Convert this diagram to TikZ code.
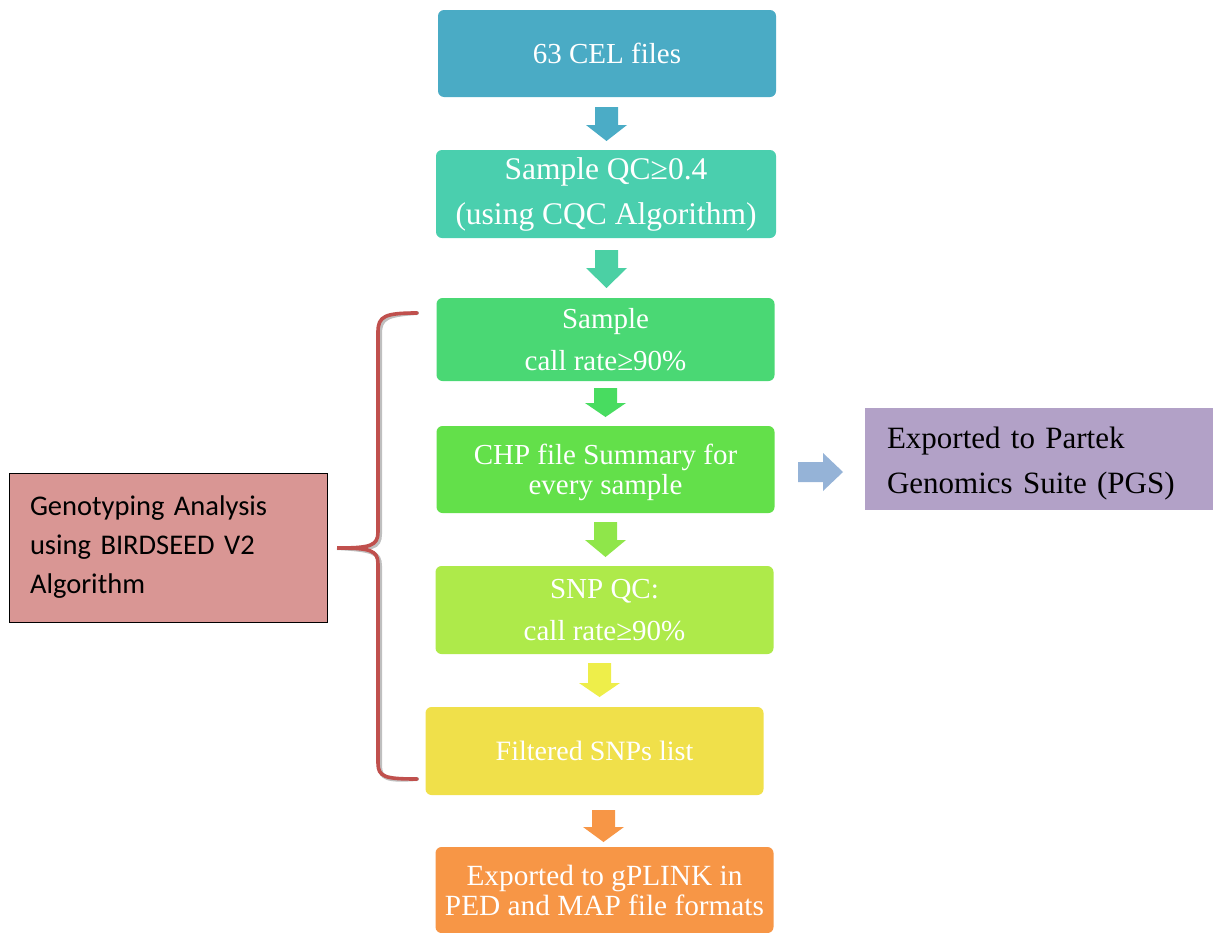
\documentclass[tikz,border=0pt]{standalone}
\usepackage{fontspec}
\setmainfont{Liberation Serif}
\newfontfamily\carlitofont{Carlito}
\definecolor{cA}{HTML}{4AABC5}
\definecolor{cB}{HTML}{4ACFAE}
\definecolor{cC}{HTML}{4AD874}
\definecolor{cD}{HTML}{63E04A}
\definecolor{cE}{HTML}{AEEA4A}
\definecolor{cF}{HTML}{F0E04A}
\definecolor{cG}{HTML}{F79646}
\definecolor{aA}{HTML}{4BACC6}
\definecolor{aB}{HTML}{4BD0A4}
\definecolor{aC}{HTML}{48DC60}
\definecolor{aD}{HTML}{8FE64A}
\definecolor{aE}{HTML}{EEEE4A}
\definecolor{aF}{HTML}{F79646}
\definecolor{purp}{HTML}{B2A1C7}
\definecolor{rarr}{HTML}{95B3D7}
\definecolor{pinkbox}{HTML}{D99694}
\definecolor{bracec}{HTML}{C0504D}
\newcommand{\blockdown}[5]{%
  \fill[#1] (#2-11.5,#3) -- (#2+11.5,#3) -- (#2+11.5,#4) -- (#2+20.5,#4) -- (#2,#5) -- (#2-20.5,#4) -- (#2-11.5,#4) -- cycle;}
\begin{document}
\begin{tikzpicture}[x=1pt,y=-1pt,
  flowbox/.style={rounded corners=6pt, minimum width=338pt, minimum height=87pt, inner sep=0pt,
    text=white, align=center, font=\fontsize{29}{42}\selectfont}]
\useasboundingbox (0,0) rectangle (1213,932);
\begin{scope}
\clip (0,0) rectangle (1213,932);
% main boxes
\node[flowbox, fill=cA] (cel) at (607,53.5) {63 CEL files};
\node[flowbox, fill=cB, minimum width=340pt, minimum height=88pt, font=\fontsize{31.5}{45}\selectfont] (qc) at (606,194) {Sample QC≥0.4\\(using CQC Algorithm)};
\node[flowbox, fill=cC, minimum height=83pt] (scr) at (605.5,339.5) {Sample\\call rate≥90\%};
\node[flowbox, fill=cD, font=\fontsize{29}{30}\selectfont] (chp) at (605.5,469.5) {\rule{0pt}{27pt}CHP file Summary for\\every sample};
\node[flowbox, fill=cE, minimum height=88pt] (snp) at (604.5,610) {SNP QC:\\call rate≥90\%};
\node[flowbox, fill=cF, minimum height=88pt, font=\fontsize{28}{30}\selectfont] (filt) at (594.5,751) {Filtered SNPs list};
\node[flowbox, fill=cG, minimum height=86pt, font=\fontsize{29.3}{30}\selectfont] (plink) at (604.5,890) {Exported to gPLINK in\\PED and MAP file formats};
% side boxes
\node[fill=purp, minimum height=102pt, inner xsep=22pt, inner ysep=0pt, text width=304pt, align=left,
  font=\fontsize{31}{45}\selectfont] (pgs) at (1039,459) {\rule{0pt}{30pt}Exported to Partek\\Genomics Suite (PGS)};
\node[fill=pinkbox, draw=black, line width=0.8pt, minimum height=149pt, inner xsep=21pt, inner ysep=0pt,
  text width=276pt, align=left, font=\carlitofont\fontsize{28.5}{39}\selectfont] (geno) at (168,547.5) {Genotyping Analysis\\using BIRDSEED V2\\Algorithm};
% block arrows
\blockdown{aA}{606.5}{107}{125}{141}
\blockdown{aB}{606.5}{250}{268}{288}
\blockdown{aC}{605.5}{388}{403}{417}
\blockdown{aD}{605.5}{522}{540}{557}
\blockdown{aE}{599.5}{663}{683}{697}
\blockdown{aF}{603.5}{810}{827}{842}
\fill[rarr] (798,462) -- (823,462) -- (823,453) -- (843,472) -- (823,491) -- (823,482) -- (798,482) -- cycle;
% brace
\coordinate (btop) at (417,313);
\coordinate (bmid) at (337,548);
\coordinate (bbot) at (417,779);
\draw[black!25, line width=4pt, line cap=round, shift={(2,2)}]
  (btop) .. controls (385,313) and (378,316) .. (378,332) -- (378,532)
  .. controls (378,546) and (370,548) .. (bmid)
  .. controls (370,548) and (378,550) .. (378,564) -- (378,763)
  .. controls (378,777) and (385,779) .. (bbot);
\draw[bracec, line width=3.6pt, line cap=round]
  (btop) .. controls (385,313) and (378,316) .. (378,332) -- (378,532)
  .. controls (378,546) and (370,548) .. (bmid)
  .. controls (370,548) and (378,550) .. (378,564) -- (378,763)
  .. controls (378,777) and (385,779) .. (bbot);
\end{scope}
\end{tikzpicture}
\end{document}
